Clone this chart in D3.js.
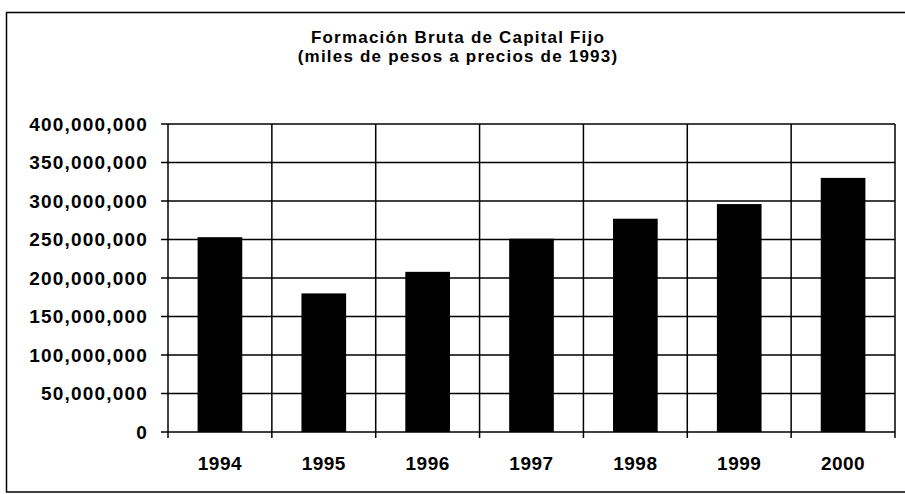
<html>
<head>
<style>
  body { margin: 0; background: #fff; }
  text { font-family: "Liberation Sans", Arial, sans-serif; font-weight: bold; fill: #000; }
</style>
</head>
<body>
<svg id="svg" width="905" height="494"></svg>
<script src="https://d3js.org/d3.v7.min.js"></script>
<script>

// data
var years = ["1994", "1995", "1996", "1997", "1998", "1999", "2000"];
var values = [253000000, 180000000, 208000000, 251000000, 277000000, 296000000, 330000000];
var yTicks = [0, 50000000, 100000000, 150000000, 200000000, 250000000, 300000000, 350000000, 400000000];
var titleLines = ["Formación Bruta de Capital Fijo", "(miles de pesos a precios de 1993)"];

var svg = d3.select("#svg");
var L = 168, R = 895, T = 124, B = 432;

// outer frame
svg.append("rect")
  .attr("x", 6.5).attr("y", 12.5).attr("width", 910).attr("height", 479.5)
  .style("fill", "none").style("stroke", "#000").style("stroke-width", 1.5);

svg.selectAll("text.title").data(titleLines)
  .join("text").classed("title", true)
  .attr("x", 458).attr("y", (d, i) => 43 + i * 19)
  .attr("text-anchor", "middle")
  .style("font-size", "17px")
  .style("letter-spacing", "1.2px")
  .text(d => d);

var x = d3.scaleBand().domain(years).range([L, R]).paddingInner(0.57).paddingOuter(0.285);
var y = d3.scaleLinear().domain([0, 400000000]).range([B, T]);
var step = x.step();

// horizontal grid + y ticks
svg.selectAll("line.hg").data(yTicks)
  .join("line").classed("hg", true)
  .attr("x1", L - 7).attr("x2", R)
  .attr("y1", d => y(d)).attr("y2", d => y(d))
  .style("stroke", "#000").style("stroke-width", 1.5);

// vertical grid (category boundaries)
svg.selectAll("line.vg").data(d3.range(years.length + 1))
  .join("line").classed("vg", true)
  .attr("x1", i => L + i * step).attr("x2", i => L + i * step)
  .attr("y1", T).attr("y2", B + 6)
  .style("stroke", "#000").style("stroke-width", 1.5);

svg.selectAll("rect.bar").data(values)
  .join("rect").classed("bar", true)
  .attr("x", (d, i) => x(years[i]))
  .attr("width", x.bandwidth())
  .attr("y", d => y(d))
  .attr("height", d => B - y(d))
  .style("fill", "#000");

var fmt = d3.format(",");
svg.selectAll("text.yl").data(yTicks)
  .join("text").classed("yl", true)
  .attr("x", 148).attr("y", d => y(d)).attr("dy", "0.35em")
  .attr("text-anchor", "end")
  .style("font-size", "19px")
  .style("letter-spacing", "1.2px")
  .text(d => fmt(d));

svg.selectAll("text.xl").data(years)
  .join("text").classed("xl", true)
  .attr("x", d => x(d) + x.bandwidth() / 2).attr("y", 470)
  .attr("text-anchor", "middle")
  .style("font-size", "19px")
  .style("letter-spacing", "0.5px")
  .text(d => d);

</script>
</body>
</html>
